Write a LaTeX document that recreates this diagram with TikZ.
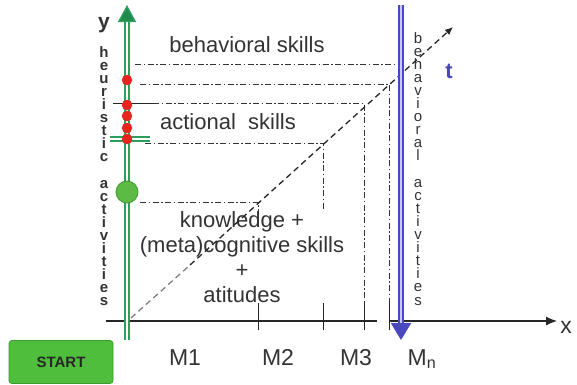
\documentclass[tikz,border=0pt]{standalone}
\usepackage{fontspec}
\setmainfont{Liberation Sans}
\usepackage{xcolor}
\definecolor{CGreen}{HTML}{2E9E5C}
\definecolor{CGreenDark}{HTML}{1E8A4C}
\definecolor{CDotGreen}{HTML}{5CBA45}
\definecolor{CDotGreenDark}{HTML}{3F9A31}
\definecolor{CStart}{HTML}{4FBE3C}
\definecolor{CStartDark}{HTML}{3A9A2C}
\definecolor{CRed}{HTML}{E4261E}
\definecolor{CBlue}{HTML}{4A48BE}
\definecolor{CBlueLight}{HTML}{C9C8F2}
\definecolor{CText}{HTML}{333333}
\usetikzlibrary{arrows.meta}
\tikzstyle{guide}=[line width=0.9pt, draw=black!80, dash pattern=on 6pt off 2.5pt on 1.5pt off 2.5pt]
\tikzstyle{diag}=[line width=1.3pt, draw=black!85, dash pattern=on 6pt off 4pt]
\tikzstyle{tickMark}=[line width=1pt, draw=black!85]
\tikzstyle{xAxis}=[line width=1.1pt, draw=black!85]
\tikzstyle{greenAxis}=[draw=CGreen, line width=1.4pt, double=white, double distance=2.4pt]
\tikzstyle{blueAxis}=[draw=CBlue, line width=2pt, double=CBlueLight, double distance=2pt]
\tikzstyle{redDot}=[circle, fill=CRed, inner sep=0pt, minimum size=10.5pt]
\tikzstyle{skillText}=[font=\fontsize{22}{25}\selectfont, text=CText, align=center]
\tikzstyle{moduleLabel}=[font=\fontsize{23}{26}\selectfont, text=CText, anchor=base]
\tikzstyle{vertText}=[align=center, inner sep=0pt, anchor=north, text=CText,
  font=\fontsize{15}{13.1}\selectfont]

\begin{document}
\begin{tikzpicture}[x=1pt,y=-1pt]
\useasboundingbox (0,0) rectangle (577,384);

% axes ends
\coordinate (yTop) at (127,5);
\coordinate (yBot) at (127,340);
\coordinate (xLeft) at (106,321);
\coordinate (xBreak) at (377,321);
\coordinate (xRest) at (389,321);
\coordinate (xEnd) at (557,321);
\coordinate (tTop) at (401,5);
\coordinate (tBot) at (401,340);
\coordinate (dStart) at (131,318);
\coordinate (dGray) at (190,265);
\coordinate (dEnd) at (453,27);

% corners of the levels
\coordinate (kCorner) at (258,202);
\coordinate (aCorner) at (323,143);
\coordinate (mCorner) at (364,103);
\coordinate (bCorner) at (389,84);
\coordinate (kLeft) at (140,202);
\coordinate (aLeft) at (145,143);
\coordinate (mLeft) at (153,103);
\coordinate (mSolid) at (113,103);
\coordinate (bLeft) at (140,84);
\coordinate (topLeft) at (135,64);
\coordinate (topRight) at (400,64);
\coordinate (kFoot) at (258,321);
\coordinate (aFoot) at (323,321);
\coordinate (mFoot) at (364,321);
\coordinate (bFoot) at (389,321);
\coordinate (gLeft) at (110,139);
\coordinate (gRight) at (150,139);

% dash-dot guides
\draw[guide] (topLeft) -- (topRight);
\draw[guide] (bLeft) -- (bCorner) -- (bFoot);
\draw[guide] (mLeft) -- (mCorner) -- (mFoot);
\draw[guide] (aLeft) -- (aCorner) -- (aFoot);
\draw[guide] (kLeft) -- (kCorner) -- (kFoot);
\draw[tickMark] (mSolid) -- (mLeft);

% ticks on the x axis
\draw[tickMark] ([yshift=-9pt]kFoot) -- ([yshift=19pt]kFoot);
\draw[tickMark] ([yshift=-9pt]aFoot) -- ([yshift=19pt]aFoot);
\draw[tickMark] ([yshift=-9pt]mFoot) -- ([yshift=19pt]mFoot);
\draw[tickMark] ([yshift=-9pt]bFoot) -- ([yshift=19pt]bFoot);

% level texts
\node[skillText] (behSkills) at (247,45) {behavioral skills};
\node[skillText] (actSkills) at (228,122) {actional\ \ skills};
\node[skillText, fill=white, inner sep=0pt] (knowSkills) at (242,257)
  {knowledge +\\(meta)cognitive skills\\+\\atitudes};

% time diagonal
\draw[diag, draw=gray] (dStart) -- (dGray);
\draw[diag, -{Latex[length=8pt,width=7pt]}] (dGray) -- (dEnd);

% x axis
\draw[xAxis] (xLeft) -- (xBreak);
\draw[xAxis, -{Latex[length=11pt,width=9pt]}] (xRest) -- (xEnd);

% heuristic axis
\draw[greenAxis, -{Triangle[length=17pt,width=18pt,fill=CGreenDark]}] (yBot) -- (yTop);
\draw[greenAxis] (gLeft) -- (gRight);
\node[redDot] (dotA) at (127,80) {};
\node[redDot] (dotB) at (127,105) {};
\node[redDot] (dotC) at (127,116) {};
\node[redDot] (dotD) at (127,128) {};
\node[redDot] (dotE) at (127,139) {};
\node[circle, fill=CDotGreen, draw=CDotGreenDark, thick, minimum size=22pt, inner sep=0pt]
  (kDot) at (127,192) {};

% behavioral axis
\draw[blueAxis, -{Triangle[length=17pt,width=20pt]}] (tTop) -- (tBot);

% axis labels
\node[font=\fontsize{21}{24}\selectfont\bfseries, text=CText, anchor=base] (yLabel) at (104,28) {y};
\node[vertText, font=\fontsize{15}{13.1}\selectfont\bfseries] (heurText) at (104,46)
  {h\\e\\u\\r\\i\\s\\t\\i\\c\\[13.1pt]a\\c\\t\\i\\v\\i\\t\\i\\e\\s};
\node[vertText] (behText) at (418,32)
  {b\\e\\h\\a\\v\\i\\o\\r\\a\\l\\[13.1pt]a\\c\\t\\i\\v\\i\\t\\i\\e\\s};
\node[font=\fontsize{22}{24}\selectfont\bfseries, text=CBlue, anchor=base] (tLabel) at (449,78) {t};
\node[moduleLabel] (xLabel) at (566,333) {x};

% modules
\node[moduleLabel] (mOne) at (185,365) {M1};
\node[moduleLabel] (mTwo) at (278,365) {M2};
\node[moduleLabel] (mThree) at (356,365) {M3};
\node[moduleLabel] (mN) at (422,365) {M\textsubscript{n}};

\node[rectangle, rounded corners=3pt, fill=CStart, draw=CStartDark, thick,
  minimum width=104pt, minimum height=43pt, font=\fontsize{15}{17}\selectfont\bfseries,
  text=black!85] (start) at (61,362) {START};
\end{tikzpicture}
\end{document}
